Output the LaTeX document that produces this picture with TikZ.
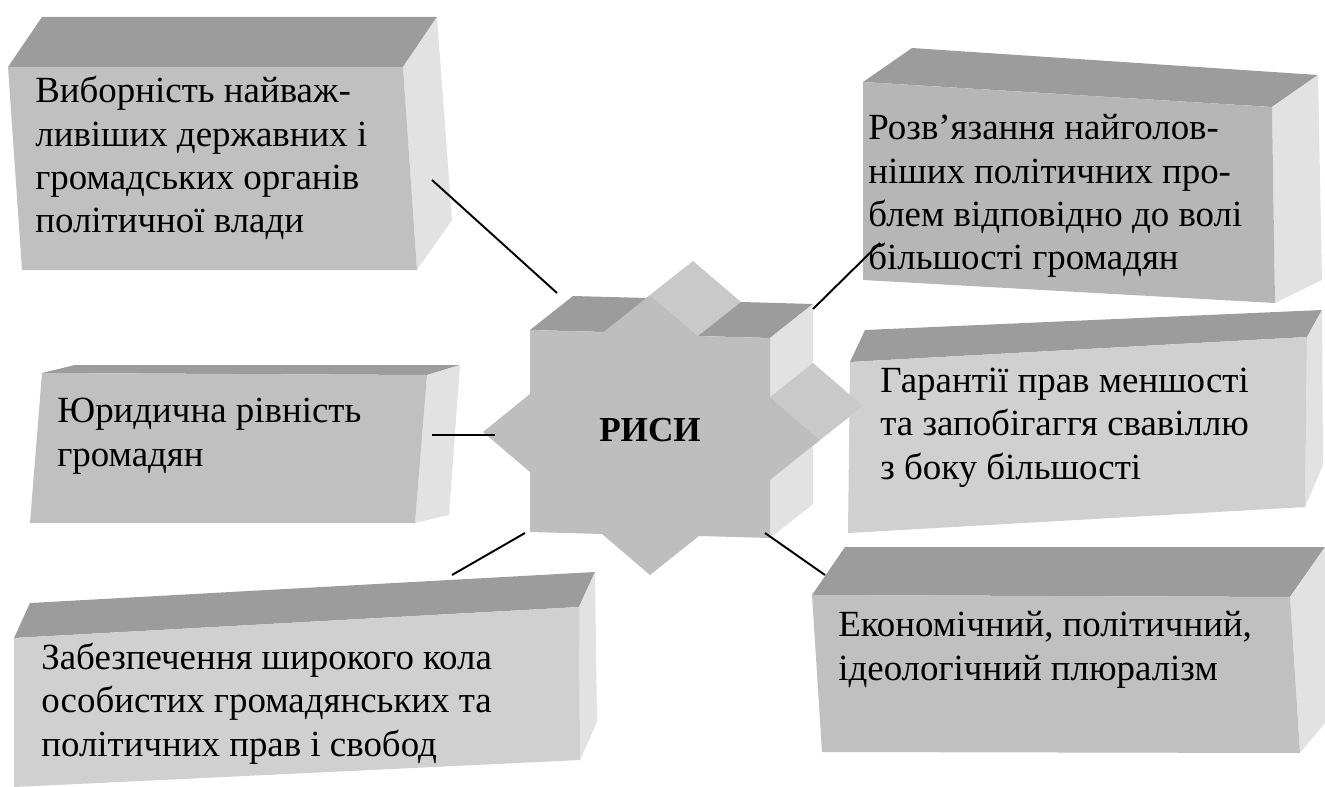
\documentclass[tikz,border=0pt]{standalone}
\usepackage{fontspec}
\setmainfont{Liberation Serif}
\usetikzlibrary{positioning}
\definecolor{topgray}{HTML}{9C9C9C}
\definecolor{sidegray}{HTML}{E2E2E2}
\definecolor{frontA}{HTML}{C0C0C0}
\definecolor{frontB}{HTML}{B6B6B6}
\definecolor{frontC}{HTML}{D0D0D0}
\definecolor{stargray}{HTML}{BEBEBE}
\definecolor{starmid}{HTML}{C9C9C9}
\tikzset{
  topface/.style={fill=topgray},
  sideface/.style={fill=sidegray},
  frontface/.style={fill=#1},
  lbl/.style={anchor=base west,align=left,inner sep=0pt,
    font=\fontsize{21}{24.7}\selectfont},
  conn/.style={line width=1.1pt}
}

\begin{document}
\begin{tikzpicture}[x=0.02cm,y=-0.02cm]
    \useasboundingbox (0,0) rectangle (1325,787);
    % top left
    \fill[topface](8,67)--(42,17)--(437,17)--(403,67)--cycle;
    \fill[sideface](403,67)--(437,17)--(452,220)--(417,270)--cycle;
    \fill[frontface=frontA](8,67)--(403,67)--(417,270)--(22,270)--cycle;
    \node[lbl](vyb)at(35,233){Виборність найваж-\\ливіших державних і\\громадських органів\\політичної влади};
    % top right
    \fill[topface](863,82)--(912,48)--(1318,75)--(1272,107)--cycle;
    \fill[sideface](1272,107)--(1318,75)--(1322,280)--(1275,303)--cycle;
    \fill[frontface=frontB](863,82)--(1272,107)--(1275,303)--(863,280)--cycle;
    \node[lbl](rozv)at(868,270){Розв’язання найголов-\\ніших політичних про-\\блем відповідно до волі\\більшості громадян};
    % middle right
    \fill[topface](850,362)--(865,330)--(1322,310)--(1307,337)--cycle;
    \fill[sideface](1307,337)--(1322,310)--(1323,465)--(1305,507)--cycle;
    \fill[frontface=frontC](850,362)--(1307,337)--(1305,507)--(848,533)--cycle;
    \node[lbl](garant)at(880,479){Гарантії прав меншості\\та запобігаггя свавіллю\\з боку більшості};
    % middle left
    \fill[topface](42,373)--(75,365)--(460,365)--(427,375)--cycle;
    \fill[sideface](427,375)--(460,365)--(449,515)--(415,523)--cycle;
    \fill[frontface=frontA](42,373)--(427,375)--(415,523)--(30,523)--cycle;
    \node[lbl](yuryd)at(57,466){Юридична рівність\\громадян};
    % bottom left
    \fill[topface](14,638)--(30,603)--(595,572)--(579,607)--cycle;
    \fill[sideface](579,607)--(595,572)--(597,722)--(580,760)--cycle;
    \fill[frontface=frontC](14,638)--(579,607)--(580,760)--(14,787)--cycle;
    \node[lbl](zabezp)at(41,756){Забезпечення широкого кола\\особистих громадянських та\\політичних прав і свобод};
    % bottom right
    \fill[topface](812,595)--(845,547)--(1325,547)--(1290,597)--cycle;
    \fill[sideface](1290,597)--(1325,547)--(1325,723)--(1300,753)--cycle;
    \fill[frontface=frontA](812,595)--(1290,597)--(1300,753)--(822,752)--cycle;
    \node[lbl](ekon)at(838,680){Економічний, політичний,\\ідеологічний плюралізм};
    % star
    \fill[topface](530,330)--(573,296)--(647,298)--(604,332)--cycle;
    \fill[starmid](650,295)--(693,261)--(741,302)--(698,336)--cycle;
    \fill[topface](698,336)--(741,302)--(813,304)--(770,338)--cycle;
    \fill[sideface](770,338)--(813,304)--(813,363)--(770,397)--cycle;
    \fill[starmid](770,397)--(813,363)--(863,406)--(820,440)--cycle;
    \fill[sideface](820,440)--(863,406)--(813,446)--(770,480)--cycle;
    \fill[sideface](770,480)--(813,446)--(813,504)--(770,538)--cycle;
    \fill[stargray](650,295)--(698,336)--(770,338)--(770,397)--(820,440)--(770,480)--(770,538)
      --(699,536)--(650,575)--(602,534)--(530,532)--(530,472)--(483,432)--(530,394)
      --(530,330)--(604,332)--cycle;
    \node[font=\fontsize{20}{24}\selectfont\bfseries](rysy)at(650,430){РИСИ};
    % links
    \coordinate(s1)at(557,293); \coordinate(b1)at(432,180);
    \coordinate(s2)at(813,309); \coordinate(b2)at(880,243);
    \coordinate(s4)at(495,435); \coordinate(b4)at(432,435);
    \coordinate(s5)at(525,533); \coordinate(b5)at(452,575);
    \coordinate(s6)at(765,533); \coordinate(b6)at(825,575);
    \draw[conn](b1)--(s1);
    \draw[conn](s2)--(b2);
    \draw[conn](b4)--(s4);
    \draw[conn](s5)--(b5);
    \draw[conn](s6)--(b6);
\end{tikzpicture}
\end{document}
